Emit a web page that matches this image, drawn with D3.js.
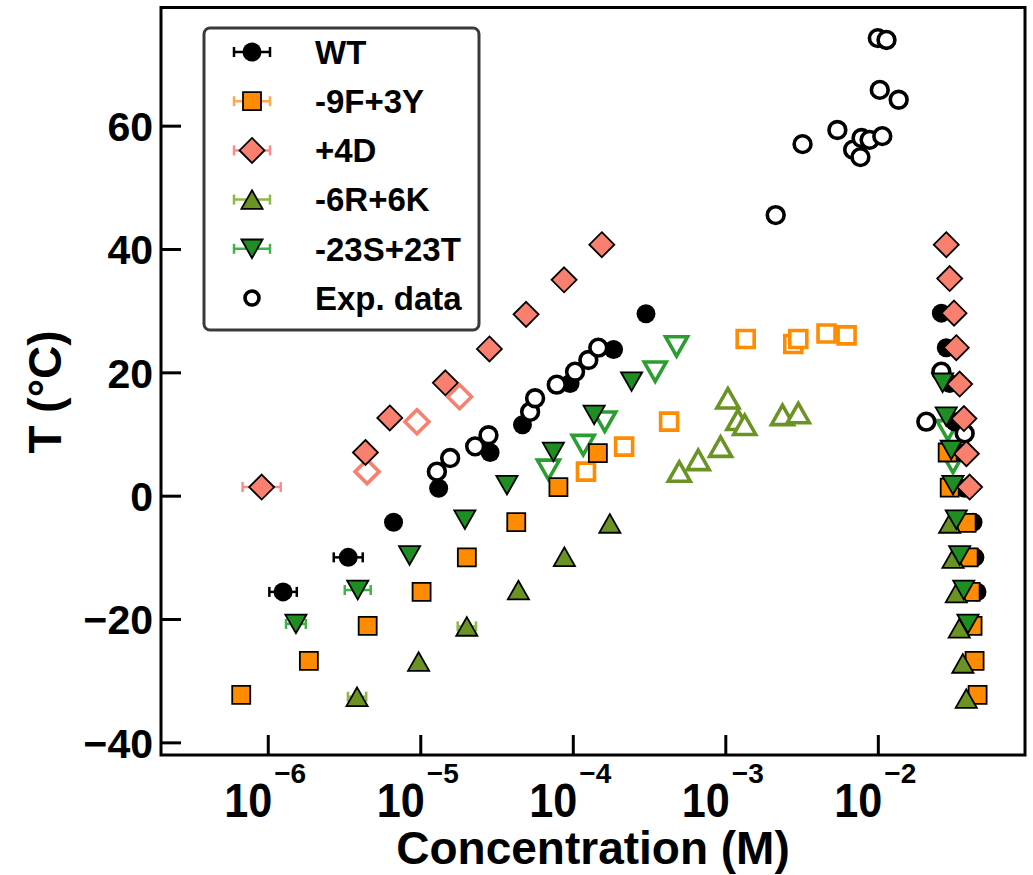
<!DOCTYPE html>
<html>
<head>
<meta charset="utf-8">
<script src="https://cdn.jsdelivr.net/npm/d3@7"></script>
<style>
  body { margin: 0; background: #fff; }
  text { font-family: "Liberation Sans", Arial, Helvetica, sans-serif; font-weight: bold; fill: #000; }
</style>
</head>
<body>
<svg id="chart" width="1033" height="875"></svg>
<script>
// ---------- Phase boundary data: concentration (M) vs temperature (°C) ----------

// WT (filled circles); horizontal error bars given as half-width in decades
const wtConc = [1.26e-6, 3.37e-6, 6.68e-6, 1.32e-5, 2.87e-5, 4.68e-5, 9.6e-5, 1.85e-4, 3.02e-4,
                0.0261, 0.0281, 0.0296, 0.0319, 0.0344, 0.0371, 0.0421, 0.0433, 0.0447];
const wtTemp = [-15.6, -10.0, -4.3, 1.2, 7.0, 11.5, 18.2, 23.7, 29.5,
                29.6, 24.0, 18.2, 12.0, 7.0, 1.2, -4.3, -10.0, -15.6];
const wtErr  = [0.09, 0.095, 0, 0, 0, 0, 0, 0, 0,
                0, 0, 0, 0, 0, 0, 0, 0, 0];

// -9F+3Y (filled squares)
const f9Conc = [6.70e-7, 1.86e-6, 4.52e-6, 1.02e-5, 2.02e-5, 4.26e-5, 8.05e-5, 1.46e-4,
                0.0287, 0.0296, 0.0382, 0.0394, 0.0406, 0.0418, 0.0431, 0.0451];
const f9Temp = [-32.3, -26.8, -21.1, -15.6, -10.0, -4.3, 1.4, 6.9,
                7.0, 1.3, -4.4, -10.0, -15.6, -21.1, -26.8, -32.3];

// +4D (filled diamonds)
const d4Conc = [9.12e-7, 4.37e-6, 6.31e-6, 1.46e-5, 2.84e-5, 4.94e-5, 8.77e-5, 1.55e-4,
                0.0281, 0.0296, 0.0316, 0.0327, 0.0344, 0.0367, 0.0381, 0.0400];
const d4Temp = [1.4, 7.0, 12.6, 18.3, 23.8, 29.4, 35.0, 40.7,
                40.7, 35.2, 29.6, 24.0, 18.1, 12.5, 6.8, 1.4];
const d4Err  = [0.125, 0, 0, 0, 0, 0, 0, 0,
                0, 0, 0, 0, 0, 0, 0, 0];

// -6R+6K (filled up-triangles)
const r6Conc = [3.85e-6, 9.75e-6, 2.02e-5, 4.40e-5, 8.81e-5, 1.75e-4,
                0.0296, 0.0311, 0.0327, 0.0342, 0.0361, 0.0380];
const r6Temp = [-32.6, -26.9, -21.2, -15.3, -9.9, -4.5,
                -4.5, -10.2, -15.8, -21.5, -27.2, -32.9];
const r6Err  = [0.06, 0, 0.06, 0, 0, 0,
                0, 0, 0, 0, 0, 0];

// -23S+23T (filled down-triangles)
const s23Conc = [1.53e-6, 3.89e-6, 8.51e-6, 1.96e-5, 3.70e-5, 7.46e-5, 1.38e-4, 2.43e-4,
                 0.0266, 0.0281, 0.0303, 0.0311, 0.0327, 0.0344, 0.0366, 0.0390];
const s23Temp = [-20.8, -15.3, -9.7, -3.9, 1.7, 7.1, 13.1, 18.5,
                 18.3, 12.8, 7.4, 1.7, -3.9, -9.7, -15.3, -20.8];
const s23Err  = [0.065, 0.085, 0, 0, 0, 0, 0, 0,
                 0, 0, 0, 0, 0, 0, 0, 0];

// Exp. data (open circles)
const expConc = [1.285e-5, 1.57e-5, 2.29e-5, 2.80e-5, 5.25e-5, 5.66e-5, 7.85e-5, 1.035e-4, 1.265e-4, 1.47e-4,
                 2.14e-3, 3.21e-3, 5.43e-3, 6.89e-3, 7.69e-3, 7.82e-3, 8.83e-3, 1.07e-2, 1.00e-2, 1.14e-2, 1.03e-2, 1.37e-2,
                 0.0261, 0.0208, 0.0371];
const expTemp = [3.9, 6.1, 8.0, 9.8, 13.6, 15.8, 18.0, 20.1, 22.0, 24.0,
                 45.5, 57.0, 59.3, 56.1, 54.9, 58.0, 57.7, 58.3, 74.2, 73.9, 65.8, 64.2,
                 20.1, 12.0, 10.1];

// Companion open-marker sets for the variants
const d4OpenConc = [4.48e-6, 9.51e-6, 1.81e-5];
const d4OpenTemp = [3.9, 12.0, 16.05];

const f9OpenConc = [1.22e-4, 2.17e-4, 4.28e-4, 1.36e-3, 2.79e-3, 3.01e-3, 4.61e-3, 6.24e-3];
const f9OpenTemp = [3.9, 7.95, 12.0, 25.4, 24.6, 25.4, 26.3, 26.0];

const r6OpenConc = [4.99e-4, 6.64e-4, 9.31e-4, 1.04e-3, 1.21e-3, 1.34e-3, 2.37e-3, 3.01e-3];
const r6OpenTemp = [3.9, 5.8, 7.95, 15.8, 12.3, 11.5, 13.1, 13.4];

const s23OpenConc = [6.92e-5, 1.17e-4, 1.62e-4, 3.47e-4, 4.79e-4, 0.0288, 0.0311];
const s23OpenTemp = [4.2, 8.2, 12.0, 20.1, 24.2, 10.6, 5.3];

// Axis ticks
const xTickExps = [-6, -5, -4, -3, -2];
const yTickVals = [-40, -20, 0, 20, 40, 60];

// Legend labels
const legendLabels = ["WT", "-9F+3Y", "+4D", "-6R+6K", "-23S+23T", "Exp. data"];

// ---------- Layout ----------
const svg = d3.select("#chart");
const plot = { left: 161, right: 1025, top: 7.5, bottom: 755 };

const x = d3.scaleLog()
  .domain([Math.pow(10, -6.700), Math.pow(10, -1.035)])
  .range([plot.left, plot.right]);
const y = d3.scaleLinear()
  .domain([-42.05, 79.16])
  .range([plot.bottom, plot.top]);

const zip = (c, t, e) => c.map((v, i) => ({ c: v, t: t[i], e: e ? e[i] : 0 }));

// Marker path builder, centred on the origin
function shapePath(type, s) {
  switch (type) {
    case "circle":
      return `M${s},0A${s},${s} 0 1 1 ${-s},0A${s},${s} 0 1 1 ${s},0Z`;
    case "square":
      return `M${-s},${-s}H${s}V${s}H${-s}Z`;
    case "diamond":
      return `M0,${-s}L${s},0L0,${s}L${-s},0Z`;
    case "triUp": {
      const w = s * 1.08, h = s * 0.95;
      return `M0,${-h}L${w},${h}L${-w},${h}Z`;
    }
    case "triDown": {
      const w = s * 1.08, h = s * 0.95;
      return `M0,${h}L${w},${-h}L${-w},${-h}Z`;
    }
  }
}

const colors = {
  orange: "#FF8C00", orangeBar: "#FFA850",
  pink: "#F9806F", pinkBar: "#FF8A8A",
  olive: "#6B9323", oliveBar: "#8DBA45",
  green: "#1E8E22", greenBar: "#3DB546"
};

const filledSeries = [
  { name: "WT", data: zip(wtConc, wtTemp, wtErr), shape: "circle", size: 9.5, fill: "#000", stroke: "none", bar: "#000" },
  { name: "-9F+3Y", data: zip(f9Conc, f9Temp), shape: "square", size: 9, fill: colors.orange, stroke: "#000", bar: colors.orangeBar },
  { name: "+4D", data: zip(d4Conc, d4Temp, d4Err), shape: "diamond", size: 12.5, fill: colors.pink, stroke: "#000", bar: colors.pinkBar },
  { name: "-6R+6K", data: zip(r6Conc, r6Temp, r6Err), shape: "triUp", size: 9.8, fill: colors.olive, stroke: "#000", bar: colors.oliveBar },
  { name: "-23S+23T", data: zip(s23Conc, s23Temp, s23Err), shape: "triDown", size: 9.8, fill: colors.green, stroke: "#000", bar: colors.greenBar }
];

const openSeries = [
  { data: zip(d4OpenConc, d4OpenTemp), shape: "diamond", size: 12, stroke: colors.pink },
  { data: zip(f9OpenConc, f9OpenTemp), shape: "square", size: 8.5, stroke: colors.orange },
  { data: zip(r6OpenConc, r6OpenTemp), shape: "triUp", size: 10.2, stroke: colors.olive },
  { data: zip(s23OpenConc, s23OpenTemp), shape: "triDown", size: 10.2, stroke: "#2A9E30" }
];

const expSeries = { data: zip(expConc, expTemp), shape: "circle", size: 8.4, stroke: "#000" };

// ---------- Axes ----------
const xAxisG = svg.append("g")
  .attr("transform", `translate(0,${plot.bottom})`)
  .call(d3.axisBottom(x)
    .tickValues(xTickExps.map(e => Math.pow(10, e)))
    .tickSize(-20)
    .tickFormat(""));
xAxisG.select(".domain").remove();
xAxisG.selectAll(".tick line").attr("stroke", "#000").attr("stroke-width", 3);

// Tick labels in 10^n form
xAxisG.selectAll(".tick").each(function(d) {
  const g = d3.select(this);
  const e = Math.round(Math.log10(d));
  g.append("text")
    .attr("transform", "translate(4,62) scale(0.9,1)")
    .attr("text-anchor", "end")
    .attr("font-size", 48)
    .attr("fill", "#000")
    .text("10");
  g.append("text")
    .attr("x", 6)
    .attr("y", 28)
    .attr("text-anchor", "start")
    .attr("font-size", 28)
    .attr("fill", "#000")
    .text("\u2212" + Math.abs(e));
});

const yAxisG = svg.append("g")
  .attr("transform", `translate(${plot.left},0)`)
  .call(d3.axisLeft(y)
    .tickValues(yTickVals)
    .tickSize(-20)
    .tickPadding(8));
yAxisG.select(".domain").remove();
yAxisG.selectAll(".tick line").attr("stroke", "#000").attr("stroke-width", 3);
yAxisG.selectAll(".tick text")
  .attr("font-size", 41)
  .attr("font-family", "'Liberation Sans', Arial, sans-serif")
  .attr("font-weight", "bold")
  .attr("dy", "0.36em");

// Axis titles
svg.append("text")
  .attr("x", (plot.left + plot.right) / 2)
  .attr("y", 864)
  .attr("text-anchor", "middle")
  .attr("font-size", 46)
  .text("Concentration (M)");

svg.append("text")
  .attr("transform", "translate(61,392) rotate(-90)")
  .attr("text-anchor", "middle")
  .attr("font-size", 46)
  .text("T (\u00B0C)");

// ---------- Marks ----------
const marks = svg.append("g");

function drawErrorBars(series) {
  const withErr = series.data.filter(d => d.e > 0);
  const g = marks.append("g").attr("stroke", series.bar).attr("stroke-width", 2.5).attr("fill", "none");
  withErr.forEach(d => {
    const cy = y(d.t);
    const x0 = x(d.c / Math.pow(10, d.e)), x1 = x(d.c * Math.pow(10, d.e));
    g.append("line").attr("x1", x0).attr("x2", x1).attr("y1", cy).attr("y2", cy);
    g.append("line").attr("x1", x0).attr("x2", x0).attr("y1", cy - 5).attr("y2", cy + 5);
    g.append("line").attr("x1", x1).attr("x2", x1).attr("y1", cy - 5).attr("y2", cy + 5);
  });
}

function drawFilled(series) {
  marks.append("g").selectAll("path")
    .data(series.data)
    .join("path")
    .attr("transform", d => `translate(${x(d.c)},${y(d.t)})`)
    .attr("d", shapePath(series.shape, series.size))
    .attr("fill", series.fill)
    .attr("stroke", series.stroke)
    .attr("stroke-width", 1.8)
    .attr("stroke-linejoin", "miter");
}

function drawOpen(series) {
  marks.append("g").selectAll("path")
    .data(series.data)
    .join("path")
    .attr("transform", d => `translate(${x(d.c)},${y(d.t)})`)
    .attr("d", shapePath(series.shape, series.size))
    .attr("fill", "#fff")
    .attr("stroke", series.stroke)
    .attr("stroke-width", 3.6);
}

// Layering: open variant markers, WT, experiment, then variant fills
openSeries.forEach(drawOpen);
drawErrorBars(filledSeries[0]);
drawFilled(filledSeries[0]);
drawOpen(expSeries);
filledSeries.slice(1).forEach(s => { drawErrorBars(s); drawFilled(s); });

// ---------- Frame ----------
svg.append("rect")
  .attr("x", plot.left)
  .attr("y", plot.top)
  .attr("width", plot.right - plot.left)
  .attr("height", plot.bottom - plot.top)
  .attr("fill", "none")
  .attr("stroke", "#000")
  .attr("stroke-width", 3);

// ---------- Legend ----------
const legend = svg.append("g");
legend.append("rect")
  .attr("x", 204).attr("y", 28)
  .attr("width", 275).attr("height", 302)
  .attr("rx", 6)
  .attr("fill", "#fff")
  .attr("stroke", "#3a3a3a")
  .attr("stroke-width", 3);

const legendRowY = d3.scaleLinear().domain([0, legendLabels.length - 1]).range([52, 298]);
const legendItems = filledSeries.map(s => ({ ...s })).concat([{ ...expSeries, exp: true }]);

legendItems.forEach((s, i) => {
  const cy = legendRowY(i);
  const cx = 252;
  const row = legend.append("g");
  if (!s.exp) {
    const bg = row.append("g").attr("stroke", s.bar).attr("stroke-width", 2.5);
    bg.append("line").attr("x1", cx - 18).attr("x2", cx + 18).attr("y1", cy).attr("y2", cy);
    bg.append("line").attr("x1", cx - 18).attr("x2", cx - 18).attr("y1", cy - 5).attr("y2", cy + 5);
    bg.append("line").attr("x1", cx + 18).attr("x2", cx + 18).attr("y1", cy - 5).attr("y2", cy + 5);
    row.append("path")
      .attr("transform", `translate(${cx},${cy})`)
      .attr("d", shapePath(s.shape, s.size))
      .attr("fill", s.fill)
      .attr("stroke", s.stroke)
      .attr("stroke-width", 1.8);
  } else {
    row.append("path")
      .attr("transform", `translate(${cx},${cy})`)
      .attr("d", shapePath("circle", 7))
      .attr("fill", "#fff")
      .attr("stroke", "#000")
      .attr("stroke-width", 3.6);
  }
  row.append("text")
    .attr("x", 315)
    .attr("y", cy)
    .attr("dy", "0.36em")
    .attr("font-size", 33)
    .text(legendLabels[i]);
});
</script>
</body>
</html>
